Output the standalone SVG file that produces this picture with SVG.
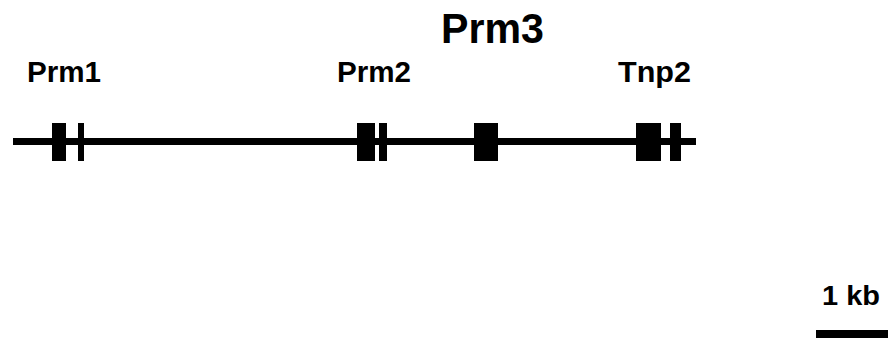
<svg xmlns="http://www.w3.org/2000/svg" width="888" height="338" viewBox="0 0 888 338">
<style>
text{font-family:"Liberation Sans",Arial,sans-serif;font-weight:bold;fill:#000}
.lbl{font-size:29px}
.ex{fill:#000}
</style>
<rect width="888" height="338" fill="#fff"/>
<g id="connectors">
<rect id="locus-line" x="13" y="138" width="683" height="7" fill="#000"/>
</g>
<g id="Prm1">
<rect class="ex" x="52" y="123" width="14" height="38"/>
<rect class="ex" x="78" y="123" width="6" height="38"/>
<text class="lbl" x="27" y="82" textLength="74" lengthAdjust="spacingAndGlyphs">Prm1</text>
</g>
<g id="Prm2">
<rect class="ex" x="357" y="123" width="18" height="38"/>
<rect class="ex" x="379" y="123" width="8" height="38"/>
<text class="lbl" x="337" y="82" textLength="74" lengthAdjust="spacingAndGlyphs">Prm2</text>
</g>
<g id="Prm3">
<rect class="ex" x="474" y="123" width="24" height="38"/>
<text x="441" y="43" font-size="43" textLength="103" lengthAdjust="spacingAndGlyphs">Prm3</text>
</g>
<g id="Tnp2">
<rect class="ex" x="636" y="123" width="25" height="38"/>
<rect class="ex" x="670" y="123" width="11" height="38"/>
<text class="lbl" x="618" y="82" textLength="73" lengthAdjust="spacingAndGlyphs">Tnp2</text>
</g>
<g id="scale">
<text x="822" y="305" font-size="28" textLength="58" lengthAdjust="spacingAndGlyphs">1 kb</text>
<rect x="816" y="330" width="72" height="8" fill="#000"/>
</g>
</svg>
